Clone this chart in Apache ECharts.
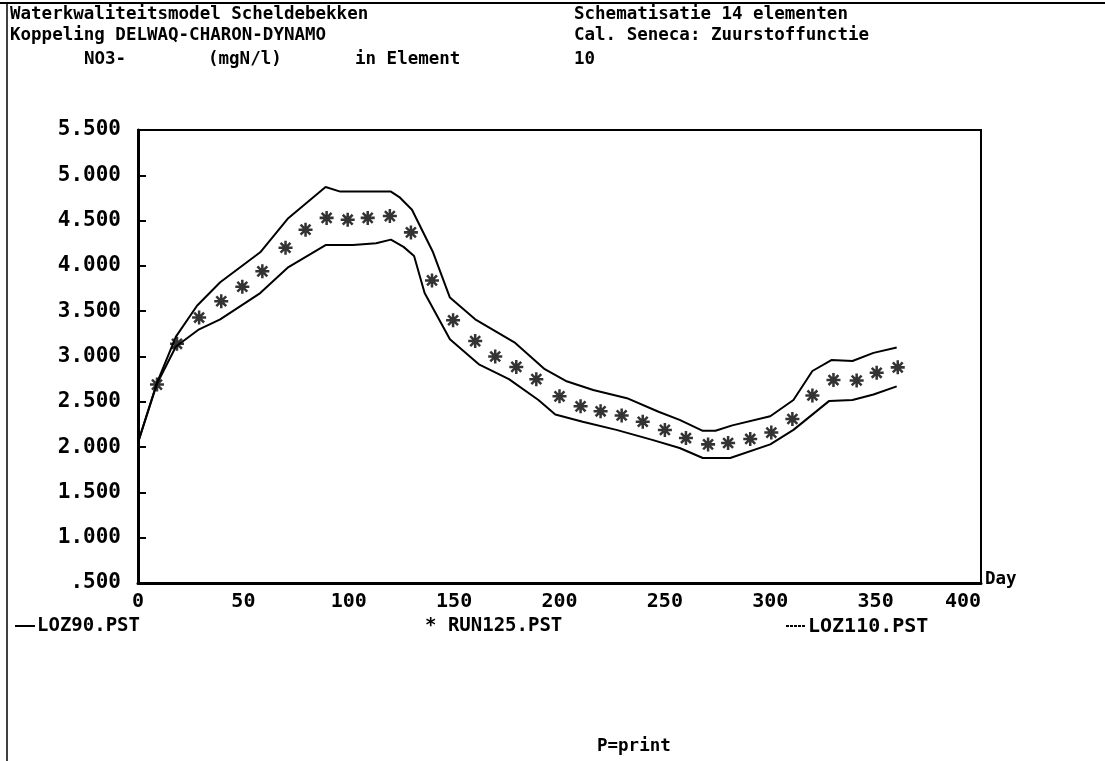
<!DOCTYPE html>
<html>
<head>
<meta charset="utf-8">
<script src="https://cdn.jsdelivr.net/npm/echarts@6/dist/echarts.min.js"></script>
<style>
html,body{margin:0;padding:0;background:#fff;}
#chart{width:1105px;height:761px;}
</style>
</head>
<body>
<div id="chart"></div>
<script>
// ---- data ----
const xTickLabels = ['0','50','100','150','200','250','300','350','400'];
const yTickLabels = ['.500','1.000','1.500','2.000','2.500','3.000','3.500','4.000','4.500','5.000','5.500'];

const days90 = [0,9,18,29,39,58,71,89,102,113,120,126,131,136,148,162,176,190,198,211,227,244,257,268,281,300,311,328,339,349,360];
const loz90  = [2.05,2.70,3.11,3.30,3.41,3.70,3.98,4.23,4.23,4.25,4.29,4.21,4.11,3.70,3.19,2.91,2.75,2.52,2.36,2.28,2.19,2.08,1.99,1.88,1.88,2.03,2.19,2.51,2.52,2.58,2.67];

const days110 = [0,9,18,28,39,58,71,89,96,120,124,130,140,148,160,179,193,203,216,232,247,257,268,274,282,300,311,320,329,339,349,360];
const loz110  = [2.05,2.71,3.22,3.56,3.82,4.15,4.52,4.87,4.82,4.82,4.76,4.62,4.15,3.65,3.41,3.15,2.86,2.73,2.63,2.54,2.39,2.30,2.18,2.18,2.24,2.34,2.52,2.84,2.96,2.95,3.04,3.10];

const runDays = [9,18.5,29,39.5,49.5,59,70,79.5,89.5,99.5,109,119.5,129.5,139.5,149.5,160,169.5,179.5,189,200,210,219.5,229.5,239.5,250,260,270.5,280,290.5,300.5,310.5,320,330,341,350.5,360.5];
const run125  = [2.69,3.14,3.43,3.61,3.77,3.94,4.20,4.40,4.53,4.51,4.53,4.55,4.37,3.84,3.40,3.17,3.00,2.885,2.75,2.56,2.45,2.395,2.35,2.28,2.19,2.10,2.03,2.045,2.09,2.16,2.31,2.57,2.74,2.735,2.82,2.88];

const seriesNames = ['LOZ90.PST','RUN125.PST','LOZ110.PST'];

// ---- chart ----
const FONT = '"DejaVu Sans Mono", "Liberation Mono", monospace';
const zip = (xs, ys) => xs.map((x, i) => [x, ys[i]]);
const starPath = 'path://M-5,-0.9L5,-0.9L5,0.9L-5,0.9Z M-0.9,-5L0.9,-5L0.9,5L-0.9,5Z M-2.899,-4.172L4.172,2.899L2.899,4.172L-4.172,-2.899Z M4.172,-2.899L-2.899,4.172L-4.172,2.899L2.899,-4.172Z';

const chart = echarts.init(document.getElementById('chart'));
// x, yc = left edge and vertical centre of the text line
const txt = (x, yc, s, size) => ({
  type: 'text', left: x, top: yc - Math.round(size * 0.5),
  style: { text: s, fill: '#000', font: 'bold ' + size + 'px ' + FONT }
});

chart.setOption({
  animation: false,
  backgroundColor: '#fff',
  grid: { left: 138, top: 130, right: 124, bottom: 178, show: true, borderColor: '#000', borderWidth: 2 },
  xAxis: {
    type: 'value', min: 0, max: 400, interval: 50,
    axisLine: { show: true, lineStyle: { color: '#000', width: 3 } },
    axisTick: { show: false },
    splitLine: { show: false },
    axisLabel: {
      margin: 9, color: '#000', fontFamily: FONT, fontWeight: 'bold', fontSize: 20,
      alignMaxLabel: 'right',
      formatter: v => xTickLabels[Math.round(v / 50)]
    }
  },
  yAxis: {
    type: 'value', min: 0.5, max: 5.5, interval: 0.5,
    axisLine: { show: true, lineStyle: { color: '#000', width: 3 } },
    axisTick: { show: true, inside: true, length: 8, lineStyle: { color: '#000', width: 2 } },
    splitLine: { show: false },
    axisLabel: {
      margin: 17, color: '#000', fontFamily: FONT, fontWeight: 'bold', fontSize: 21,
      formatter: v => yTickLabels[Math.round((v - 0.5) / 0.5)]
    }
  },
  series: [
    { name: seriesNames[0], type: 'line', data: zip(days90, loz90), showSymbol: false,
      lineStyle: { color: '#000', width: 2 } },
    { name: seriesNames[1], type: 'scatter', data: zip(runDays, run125), symbol: starPath,
      symbolSize: 14, symbolKeepAspect: true, itemStyle: { color: '#000' } },
    { name: seriesNames[2], type: 'line', data: zip(days110, loz110), showSymbol: false,
      lineStyle: { color: '#000', width: 2 } }
  ],
  graphic: [
    { type: 'line', shape: { x1: 0, y1: 3, x2: 1105, y2: 3 }, style: { stroke: '#000', lineWidth: 2 } },
    { type: 'line', shape: { x1: 7, y1: 3, x2: 7, y2: 761 }, style: { stroke: '#000', lineWidth: 1.5 } },
    txt(10, 14, 'Waterkwaliteitsmodel Scheldebekken', 17.5),
    txt(10, 35, 'Koppeling DELWAQ-CHARON-DYNAMO', 17.5),
    txt(574, 14, 'Schematisatie 14 elementen', 17.5),
    txt(574, 35, 'Cal. Seneca: Zuurstoffunctie', 17.5),
    txt(84, 59, 'NO3-', 17.5),
    txt(208, 59, '(mgN/l)', 17.5),
    txt(355, 59, 'in Element', 17.5),
    txt(574, 59, '10', 17.5),
    txt(985, 579, 'Day', 17.5),
    { type: 'line', shape: { x1: 15, y1: 626, x2: 35, y2: 626 }, style: { stroke: '#000', lineWidth: 2 } },
    txt(37, 627, seriesNames[0], 19),
    txt(425, 627, '* ' + seriesNames[1], 19),
    { type: 'line', shape: { x1: 786, y1: 626, x2: 806, y2: 626 }, style: { stroke: '#000', lineWidth: 2, lineDash: [3, 1] } },
    txt(808, 627, seriesNames[2], 20),
    txt(597, 746, 'P=print', 17.5)
  ]
});
</script>
</body>
</html>
